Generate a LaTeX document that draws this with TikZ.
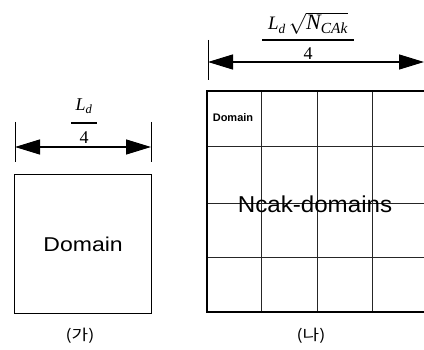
\documentclass[tikz,border=0pt]{standalone}
\usepackage{amsmath}
\usepackage{graphicx}
\usepackage{fontspec}
\setmainfont{Liberation Sans}
\newfontfamily\krfont{Noto Sans CJK KR}
\newfontfamily\tnr{Liberation Serif}
\newcommand\ti[1]{\text{\tnr\itshape #1}}
\usetikzlibrary{arrows.meta}
\tikzset{
  frame/.style={draw=black, line width=1.2pt},
  gridline/.style={draw=black!85, line width=0.6pt},
  tickline/.style={draw=black, line width=0.9pt},
  fracbar/.style={draw=black, line width=1.2pt},
  dimarrow/.style={draw=black, line width=1.3pt, {Triangle[length=25pt,width=15pt]}-{Triangle[length=25pt,width=15pt]}},
  lbl/.style={inner sep=0pt, font=\fontsize{15}{17}\selectfont\krfont},
  fracpart/.style={inner sep=0pt, anchor=base, font=\fontsize{18}{21}\selectfont\tnr}
}
\begin{document}
\begin{tikzpicture}[x=1pt,y=-1pt]
\useasboundingbox (0,0) rectangle (424,350);
% left box
\node[frame, minimum width=137pt, minimum height=139pt, inner sep=0pt, anchor=north west,
  font=\fontsize{20}{24}\selectfont] (box) at (14,174) {\scalebox{1.15}[1]{Domain}};
\node[lbl] (ga) at (80,336) {\scalebox{1.2}[1]{(가)}};
\coordinate (lt1) at (15,122);
\coordinate (lb1) at (15,162);
\coordinate (lt2) at (151,122);
\coordinate (lb2) at (151,162);
\draw[tickline] (lt1) -- (lb1);
\draw[tickline] (lt2) -- (lb2);
\coordinate (la) at (15,147);
\coordinate (lbb) at (151,147);
\draw[dimarrow] (la) -- (lbb);
\node[fracpart] (lnum) at (84,111) {$\ti{L}_{\ti{d}}$};
\node[fracpart] (lden) at (84,144) {4};
\coordinate (lbar1) at (71,123);
\coordinate (lbar2) at (97,123);
\draw[fracbar] (lbar1) -- (lbar2);
% right grid
\begin{scope}
\clip (0,0) rectangle (424,350);
\foreach \x in {261,317,372} \draw[gridline] (\x,91) -- (\x,312);
\foreach \y in {146,203,257} \draw[gridline] (207,\y) -- (430,\y);
\draw[frame] (430,91) -- (207,91) -- (207,312) -- (430,312);
\end{scope}
\node[inner sep=0pt, font=\fontsize{11}{13}\selectfont\bfseries] (small) at (233,118) {Domain};
\node[inner sep=0pt, font=\fontsize{23}{26}\selectfont] (nc) at (315,204) {\scalebox{1.05}[1]{Ncak-domains}};
\node[lbl] (na) at (311,336) {\scalebox{1.2}[1]{(나)}};
\coordinate (rt1) at (208,40);
\coordinate (rb1) at (208,80);
\draw[tickline] (rt1) -- (rb1);
\coordinate (ra) at (208,62);
\coordinate (rbb) at (424,62);
\draw[dimarrow] (ra) -- (rbb);
\node[fracpart] (rnum) at (308,30) {{\fontsize{19}{22}\selectfont$\ti{L}_{\ti{d}}$}\,{\fontsize{22}{26}\selectfont$\sqrt{\ti{N}_{\ti{CAk}}}$}};
\node[fracpart] (rden) at (308,60) {4};
\coordinate (rbar1) at (262,40);
\coordinate (rbar2) at (354,40);
\draw[fracbar] (rbar1) -- (rbar2);
\end{tikzpicture}
\end{document}
